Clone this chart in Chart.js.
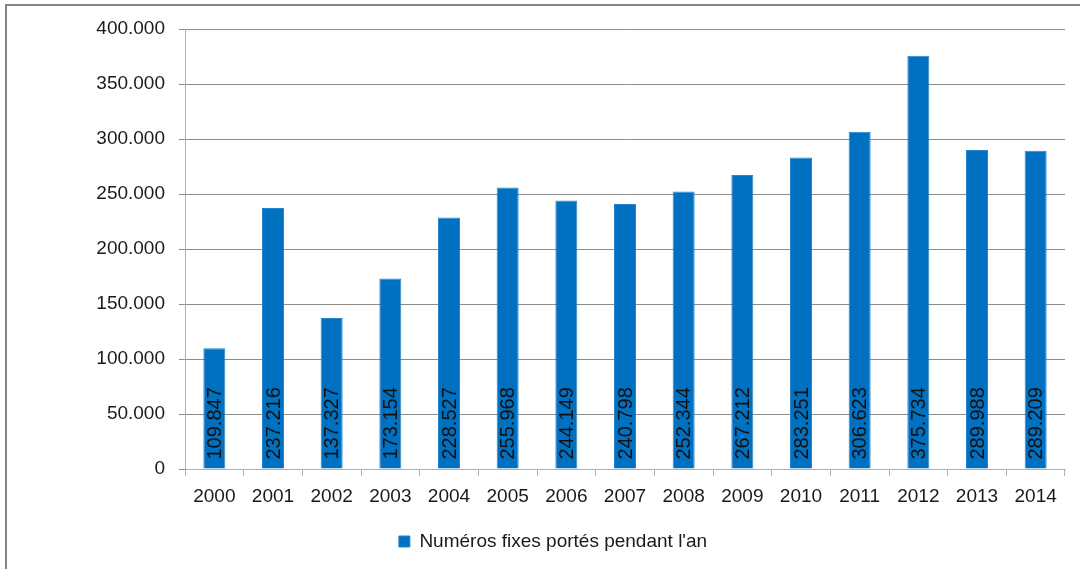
<!DOCTYPE html>
<html>
<head>
<meta charset="utf-8">
<script src="https://cdn.jsdelivr.net/npm/chart.js@4.4.1/dist/chart.umd.min.js"></script>
<style>
  html, body { margin: 0; padding: 0; background: #fff; }
  #wrap { position: relative; width: 1080px; height: 569px; overflow: hidden; }
  #frame { position: absolute; left: 5px; top: 4px; width: 1200px; height: 700px; border: 2px solid #858585; box-sizing: border-box; }
  canvas { position: absolute; left: 0; top: 0; }
</style>
</head>
<body>
<div id="wrap">
  <div id="frame"></div>
  <canvas id="canvas" width="1080" height="569"></canvas>
</div>
<script>
const years = ['2000','2001','2002','2003','2004','2005','2006','2007','2008','2009','2010','2011','2012','2013','2014'];
const ported = [109847, 237216, 137327, 173154, 228527, 255968, 244149, 240798, 252344, 267212, 283251, 306623, 375734, 289988, 289209];
const seriesName = "Numéros fixes portés pendant l'an";

const fmt = (v) => v.toLocaleString('de-DE');
const FONT = "'Liberation Sans', Arial, sans-serif";

// labels rotated, sitting at the base of every bar
const barLabels = {
  id: 'barLabels',
  afterDatasetsDraw(chart) {
    const ctx = chart.ctx;
    const meta = chart.getDatasetMeta(0);
    ctx.save();
    ctx.fillStyle = '#111';
    ctx.font = '20px ' + FONT;
    ctx.textAlign = 'left';
    ctx.textBaseline = 'middle';
    meta.data.forEach((bar, i) => {
      ctx.save();
      ctx.translate(bar.x + 1, bar.base - 9);
      ctx.rotate(-Math.PI / 2);
      ctx.fillText(fmt(ported[i]), 0, 0);
      ctx.restore();
    });
    ctx.restore();
  }
};

new Chart(document.getElementById('canvas'), {
  type: 'bar',
  data: {
    labels: years,
    datasets: [{
      label: seriesName,
      data: ported,
      backgroundColor: '#0070C0',
      borderColor: '#2a86cc',
      borderWidth: 1,
      barPercentage: 0.375,
      categoryPercentage: 1
    }]
  },
  options: {
    responsive: false,
    animation: false,
    layout: { padding: { left: 41, right: 15, top: 29, bottom: 8 } },
    plugins: {
      tooltip: { enabled: false },
      legend: {
        position: 'bottom',
        labels: {
          boxWidth: 11, boxHeight: 11, padding: 9,
          color: '#1a1a1a',
          font: { family: FONT, size: 19 }
        }
      }
    },
    scales: {
      x: {
        grid: { display: true, drawOnChartArea: false, offset: true, tickLength: 7, color: '#b0b0b0' },
        border: { color: '#b0b0b0' },
        ticks: { color: '#1a1a1a', padding: 9, font: { family: FONT, size: 19 } },
        afterFit(scale) { scale.height = 54; }
      },
      y: {
        min: 0, max: 400000,
        grid: { color: '#8c8c8c', tickLength: 6 },
        border: { color: '#b0b0b0' },
        ticks: {
          stepSize: 50000, padding: 14, color: '#1a1a1a',
          font: { family: FONT, size: 19 },
          callback: (v) => fmt(v)
        },
        afterFit(scale) { scale.width = 144; }
      }
    }
  },
  plugins: [barLabels]
});
</script>
</body>
</html>
